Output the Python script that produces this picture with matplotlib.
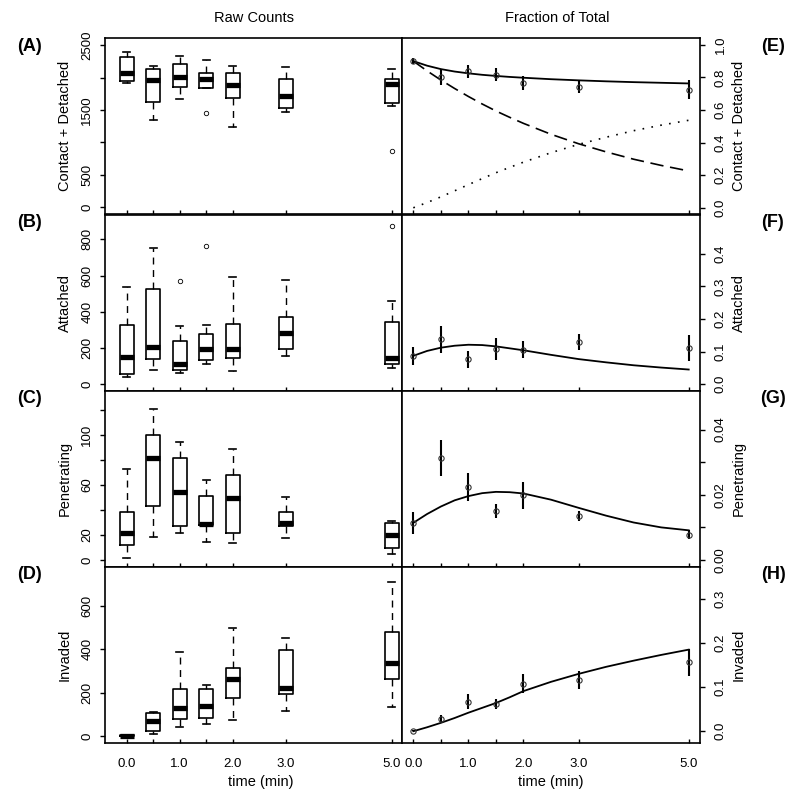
import matplotlib.pyplot as plt
from matplotlib.ticker import FixedLocator

plt.rcParams["font.family"] = ["Liberation Sans", "DejaVu Sans"]

times = [0.0, 0.5, 1.0, 1.5, 2.0, 3.0, 5.0]
time_labels = ["0.0", "", "1.0", "", "2.0", "3.0", "5.0"]

# raw counts per time point: whisker low, lower quartile, median, upper quartile, whisker high
contact_lo = [1910, 1345, 1663, 1833, 1242, 1463, 1561]
contact_q1 = [1946, 1622, 1858, 1843, 1689, 1525, 1602]
contact_med = [2064, 1961, 2002, 1971, 1884, 1720, 1894]
contact_q3 = [2320, 2125, 2202, 2064, 2074, 1971, 1971]
contact_hi = [2397, 2182, 2336, 2269, 2182, 2156, 2125]
contact_out = [[], [], [], [1458], [], [], [873]]

attached_lo = [41, 77, 61, 111, 74, 155, 87]
attached_q1 = [57, 140, 77, 133, 144, 194, 114]
attached_med = [151, 206, 114, 192, 194, 284, 147]
attached_q3 = [328, 527, 240, 275, 335, 371, 345]
attached_hi = [538, 750, 321, 328, 590, 575, 461]
attached_out = [[], [], [571], [763], [], [], [874]]

penetr_lo = [1.3, 18.7, 21.3, 14.1, 13.3, 17.3, 4.5]
penetr_q1 = [12.0, 42.7, 27.2, 28.3, 21.3, 27.2, 9.3]
penetr_med = [21.9, 81.3, 53.9, 28.8, 49.3, 29.9, 19.7]
penetr_q3 = [37.9, 100.0, 81.3, 50.7, 67.5, 38.4, 29.3]
penetr_hi = [72.8, 120.5, 93.9, 64.0, 88.5, 49.9, 31.2]
penetr_out = [[], [], [], [], [], [], []]

invaded_lo = [0, 9, 43, 55, 74, 115, 135]
invaded_q1 = [0, 25, 77, 84, 176, 192, 262]
invaded_med = [2, 71, 132, 138, 264, 221, 338]
invaded_q3 = [4, 107, 219, 216, 315, 396, 480]
invaded_hi = [5, 109, 388, 235, 499, 450, 710]
invaded_out = [[], [], [], [], [], [], []]

# fraction of total: observed mean and error half-width
contact_frac = [0.902, 0.804, 0.837, 0.816, 0.767, 0.743, 0.724]
contact_err = [0.020, 0.050, 0.040, 0.040, 0.043, 0.036, 0.058]
attached_frac = [0.087, 0.138, 0.077, 0.108, 0.106, 0.130, 0.111]
attached_err = [0.028, 0.042, 0.026, 0.033, 0.027, 0.024, 0.040]
penetr_frac = [0.0114, 0.0313, 0.0225, 0.0151, 0.0198, 0.0135, 0.0078]
penetr_err = [0.0034, 0.0055, 0.0043, 0.0022, 0.0042, 0.0014, 0.0015]
invaded_frac = [0.0015, 0.028, 0.0665, 0.062, 0.108, 0.116, 0.156]
invaded_err = [0.001, 0.008, 0.017, 0.011, 0.021, 0.020, 0.030]

# model fits
fit_t = [0, 0.25, 0.5, 0.75, 1.0, 1.25, 1.5, 1.75, 2.0, 2.5, 3.0, 3.5, 4.0, 4.5, 5.0]
contact_fit = [0.900, 0.872, 0.851, 0.836, 0.825, 0.816, 0.809, 0.803, 0.798,
               0.789, 0.782, 0.776, 0.771, 0.767, 0.763]
contact_fit_a = [0.900, 0.840, 0.784, 0.732, 0.683, 0.637, 0.594, 0.555, 0.518,
                 0.451, 0.393, 0.343, 0.298, 0.260, 0.226]
contact_fit_b = [0.000, 0.032, 0.067, 0.104, 0.142, 0.179, 0.215, 0.248, 0.280,
                 0.338, 0.389, 0.433, 0.473, 0.507, 0.537]
attached_fit = [0.087, 0.102, 0.112, 0.118, 0.121, 0.120, 0.116, 0.110, 0.104,
                0.090, 0.077, 0.067, 0.058, 0.051, 0.045]
penetr_fit = [0.0114, 0.0141, 0.0164, 0.0183, 0.0196, 0.0205, 0.0209, 0.0208, 0.0204,
              0.0185, 0.0160, 0.0136, 0.0115, 0.0100, 0.0091]
invaded_fit = [0.000, 0.009, 0.019, 0.030, 0.042, 0.053, 0.064, 0.077, 0.091,
               0.112, 0.130, 0.146, 0.160, 0.173, 0.185]

names = ["Contact + Detached", "Attached", "Penetrating", "Invaded"]
raw = [
    (contact_lo, contact_q1, contact_med, contact_q3, contact_hi, contact_out),
    (attached_lo, attached_q1, attached_med, attached_q3, attached_hi, attached_out),
    (penetr_lo, penetr_q1, penetr_med, penetr_q3, penetr_hi, penetr_out),
    (invaded_lo, invaded_q1, invaded_med, invaded_q3, invaded_hi, invaded_out),
]
frac = [
    (contact_frac, contact_err, contact_fit),
    (attached_frac, attached_err, attached_fit),
    (penetr_frac, penetr_err, penetr_fit),
    (invaded_frac, invaded_err, invaded_fit),
]
raw_ylim = [(-110, 2605), (-36, 936), (-5.2, 135.2), (-30, 780)]
raw_ticks = [[0, 500, 1000, 1500, 2000, 2500], [0, 200, 400, 600, 800],
             [0, 20, 40, 60, 80, 100, 120], [0, 200, 400, 600]]
raw_shown = [[0, 500, 1500, 2500], [0, 200, 400, 600, 800], [0, 20, 60, 100],
             [0, 200, 400, 600]]
frac_ylim = [(-0.04, 1.04), (-0.02, 0.52), (-0.002, 0.052), (-0.026, 0.373)]
frac_ticks = [[0, 0.2, 0.4, 0.6, 0.8, 1.0], [0, 0.1, 0.2, 0.3, 0.4],
              [0, 0.01, 0.02, 0.03, 0.04], [0, 0.1, 0.2, 0.3]]
frac_shown = [None, None, [0, 0.02, 0.04], None]
frac_fmt = ["%.1f", "%.1f", "%.2f", "%.1f"]

W, H = 800, 795
row_top = [38.3, 214.7, 390.5, 566.7]
row_h = 176.0
x_left, x_mid, x_right = 104.7, 402.3, 700.0

fig = plt.figure(figsize=(W / 100, H / 100), dpi=100)


def rect(x0, x1, top):
    return [x0 / W, 1 - (top + row_h) / H, (x1 - x0) / W, row_h / H]


def style(ax, bottom_row, ypad):
    for sp in ax.spines.values():
        sp.set_linewidth(1.2)
    ax.set_xticks(times)
    ax.tick_params(axis="x", direction="in", length=3, width=1.0, pad=11,
                   labelsize=9.5, top=False)
    if bottom_row:
        ax.set_xticklabels(time_labels)
    else:
        ax.set_xticklabels([])
    ax.tick_params(axis="y", direction="out", length=3.6, width=1.0, pad=ypad,
                   labelsize=9.5, labelrotation=90)


box_w = 0.27
for i in range(4):
    lo, q1, med, q3, hi, out = raw[i]
    ax = fig.add_axes(rect(x_left, x_mid, row_top[i]))
    stats = [dict(whislo=lo[j], q1=q1[j], med=med[j], q3=q3[j], whishi=hi[j],
                  fliers=out[j]) for j in range(len(times))]
    ax.bxp(stats, positions=times, widths=box_w, capwidths=box_w / 2,
           manage_ticks=False,
           boxprops=dict(color="black", linewidth=1.2),
           medianprops=dict(color="black", linewidth=3.8, solid_capstyle="butt"),
           whiskerprops=dict(color="black", linewidth=1.0, linestyle=(0, (5, 4))),
           capprops=dict(color="black", linewidth=1.2),
           flierprops=dict(marker="o", markersize=3.2, markerfacecolor="none",
                           markeredgecolor="black", markeredgewidth=0.6))
    ax.set_xlim(-0.415, 5.2)
    ax.set_ylim(*raw_ylim[i])
    style(ax, i == 3, 4.5)
    ax.yaxis.set_major_locator(FixedLocator(raw_ticks[i]))
    ax.set_yticklabels([str(v) if v in raw_shown[i] else "" for v in raw_ticks[i]])
    plt.setp(ax.get_yticklabels(), va="center")

    mean, err, fit = frac[i]
    axr = fig.add_axes(rect(x_mid, x_right, row_top[i]))
    if i == 0:
        axr.plot(fit_t, contact_fit_a, color="black", linewidth=1.2,
                 linestyle=(0, (8, 4)))
        axr.plot(fit_t, contact_fit_b, color="black", linewidth=1.2,
                 linestyle=(0, (1, 4.4)))
    axr.plot(fit_t, fit, color="black", linewidth=1.3)
    axr.errorbar(times, mean, yerr=err, fmt="none", ecolor="black", elinewidth=1.5)
    axr.plot(times, mean, "o", markersize=3.8, markerfacecolor="none",
             markeredgecolor="#333333", markeredgewidth=0.8)
    axr.set_xlim(-0.2, 5.205)
    axr.set_ylim(*frac_ylim[i])
    axr.yaxis.tick_right()
    style(axr, i == 3, 7)
    axr.tick_params(axis="y", left=False, right=True)
    axr.yaxis.set_major_locator(FixedLocator(frac_ticks[i]))
    shown = frac_shown[i]
    axr.set_yticklabels([frac_fmt[i] % v if (shown is None or v in shown) else ""
                         for v in frac_ticks[i]])
    plt.setp(axr.get_yticklabels(), va="center")

    yc = 1 - (row_top[i] + row_h / 2) / H
    fig.text(65 / W, yc, names[i], rotation=90, ha="center", va="center", fontsize=10.5)
    fig.text(739 / W, yc, names[i], rotation=90, ha="center", va="center", fontsize=10.5)
    yl = 1 - (row_top[i] + 8) / H
    fig.text(30 / W, yl, "(%s)" % "ABCD"[i], ha="center", va="center",
             fontsize=13, fontweight="bold")
    fig.text(773 / W, yl, "(%s)" % "EFGH"[i], ha="center", va="center",
             fontsize=13, fontweight="bold")

fig.text(253.5 / W, 1 - 17.5 / H, "Raw Counts", ha="center", va="center", fontsize=10.5)
fig.text(557 / W, 1 - 17.5 / H, "Fraction of Total", ha="center", va="center",
         fontsize=10.5)
fig.text(261 / W, 1 - 782 / H, "time (min)", ha="center", va="center", fontsize=10.5)
fig.text(551 / W, 1 - 782 / H, "time (min)", ha="center", va="center", fontsize=10.5)

fig.savefig("out.png", dpi=100)
